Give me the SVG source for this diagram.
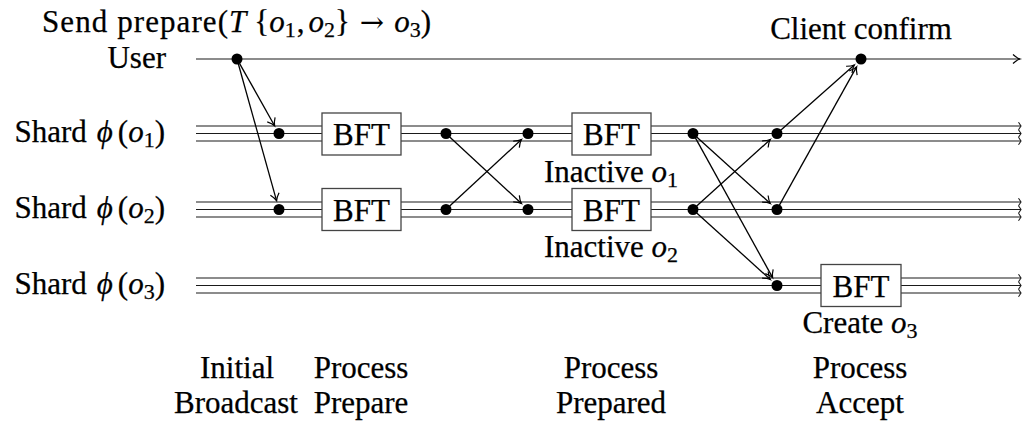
<svg xmlns="http://www.w3.org/2000/svg" width="1024" height="423" viewBox="0 0 1024 423">
  <style>
    text { font-family: "Liberation Serif", "Times New Roman", serif; font-size: 31px; fill: #000; stroke: #000; stroke-width: 0.25; }
    .m { font-style: italic; }
    .sub { font-size: 22px; }
    .sym { font-family: "DejaVu Serif", serif; font-size: 29px; stroke-width: 0; }
    .lane { stroke: #1a1a1a; stroke-width: 1.2; fill: none; }
    .rail { stroke: #1a1a1a; stroke-width: 1.2; fill: none; marker-end: url(#tick); }
    .box { fill: #fff; stroke: #444; stroke-width: 1.3; }
    .dot { fill: #000; }
    .msg { stroke: #000; stroke-width: 1.3; fill: none; marker-end: url(#to); }
    .mid { text-anchor: middle; }
    .end { text-anchor: end; }
  </style>
  <defs>
    <!-- curved "to" arrow tip for messages -->
    <marker id="to" markerUnits="userSpaceOnUse" viewBox="-9 -6 10 12" markerWidth="10" markerHeight="12" refX="0" refY="0" orient="auto" overflow="visible">
      <path d="M-7,-4.5 C-4,-1.8 -2,-0.6 0,0 C-2,0.6 -4,1.8 -7,4.5" fill="none" stroke="#000" stroke-width="1.2"/>
    </marker>
    <!-- small tip at the right end of each shard rail -->
    <marker id="tick" markerUnits="userSpaceOnUse" viewBox="-4 -5 5 10" markerWidth="5" markerHeight="10" refX="0" refY="0" orient="auto" overflow="visible">
      <path d="M-2.5,-3.7 L0,0 L-2.5,3.7" fill="none" stroke="#1a1a1a" stroke-width="1.1"/>
    </marker>
  </defs>

  <!-- timelines -->
  <g id="lanes">
    <g id="lane-user">
      <line class="lane" x1="196" y1="59" x2="1020" y2="59" style="marker-end:url(#to)"/>
    </g>
    <g id="lane-shard1">
      <line class="rail" x1="196" y1="126" x2="1021" y2="126"/>
      <line class="rail" x1="196" y1="133.5" x2="1021" y2="133.5"/>
      <line class="rail" x1="196" y1="141" x2="1021" y2="141"/>
    </g>
    <g id="lane-shard2">
      <line class="rail" x1="196" y1="202" x2="1021" y2="202"/>
      <line class="rail" x1="196" y1="209.5" x2="1021" y2="209.5"/>
      <line class="rail" x1="196" y1="217" x2="1021" y2="217"/>
    </g>
    <g id="lane-shard3">
      <line class="rail" x1="196" y1="278" x2="1021" y2="278"/>
      <line class="rail" x1="196" y1="285.5" x2="1021" y2="285.5"/>
      <line class="rail" x1="196" y1="293" x2="1021" y2="293"/>
    </g>
  </g>

  <!-- lane labels -->
  <g id="lane-labels">
    <text y="32"><tspan x="42" textLength="186" lengthAdjust="spacing">Send prepare(</tspan><tspan class="m">T</tspan><tspan dx="8">{</tspan><tspan class="m">o</tspan><tspan class="sub" dy="5">1</tspan><tspan dy="-5" dx="1">,</tspan><tspan class="m" dx="4">o</tspan><tspan class="sub" dy="5">2</tspan><tspan dy="-5">}</tspan><tspan class="sym" dx="10">→</tspan><tspan class="m" dx="10">o</tspan><tspan class="sub" dy="5">3</tspan><tspan dy="-5">)</tspan></text>
    <text class="end" x="166" y="68">User</text>
    <text class="end" x="165" y="142">Shard<tspan class="m" dx="10">ϕ</tspan><tspan dx="5">(</tspan><tspan class="m">o</tspan><tspan class="sub" dy="5">1</tspan><tspan dy="-5">)</tspan></text>
    <text class="end" x="165" y="218">Shard<tspan class="m" dx="10">ϕ</tspan><tspan dx="5">(</tspan><tspan class="m">o</tspan><tspan class="sub" dy="5">2</tspan><tspan dy="-5">)</tspan></text>
    <text class="end" x="165" y="294">Shard<tspan class="m" dx="10">ϕ</tspan><tspan dx="5">(</tspan><tspan class="m">o</tspan><tspan class="sub" dy="5">3</tspan><tspan dy="-5">)</tspan></text>
  </g>

  <!-- user events -->
  <g id="n-user-send"><circle class="dot" cx="237" cy="59" r="5.5"/></g>
  <g id="n-client-confirm">
    <circle class="dot" cx="861" cy="59" r="5.5"/>
    <text class="mid" x="861" y="39">Client confirm</text>
  </g>

  <!-- shard 1 events -->
  <g id="n-s1-recv"><circle class="dot" cx="279" cy="133.5" r="5.5"/></g>
  <g id="n-s1-bft1">
    <rect class="box" x="322" y="113" width="79" height="42"/>
    <text class="mid" x="361.5" y="145">BFT</text>
  </g>
  <g id="n-s1-send"><circle class="dot" cx="446" cy="133.5" r="5.5"/></g>
  <g id="n-s1-prepared"><circle class="dot" cx="528" cy="133.5" r="5.5"/></g>
  <g id="n-s1-bft2">
    <rect class="box" x="572" y="113" width="79" height="42"/>
    <text class="mid" x="611.5" y="145">BFT</text>
    <text class="mid" x="611" y="182">Inactive <tspan class="m">o</tspan><tspan class="sub" dy="5">1</tspan></text>
  </g>
  <g id="n-s1-accept"><circle class="dot" cx="693" cy="133.5" r="5.5"/></g>
  <g id="n-s1-done"><circle class="dot" cx="777" cy="133.5" r="5.5"/></g>

  <!-- shard 2 events -->
  <g id="n-s2-recv"><circle class="dot" cx="279" cy="209.5" r="5.5"/></g>
  <g id="n-s2-bft1">
    <rect class="box" x="322" y="188.5" width="79" height="42"/>
    <text class="mid" x="361.5" y="220.5">BFT</text>
  </g>
  <g id="n-s2-send"><circle class="dot" cx="446" cy="209.5" r="5.5"/></g>
  <g id="n-s2-prepared"><circle class="dot" cx="528" cy="209.5" r="5.5"/></g>
  <g id="n-s2-bft2">
    <rect class="box" x="572" y="188.5" width="79" height="42"/>
    <text class="mid" x="611.5" y="220.5">BFT</text>
    <text class="mid" x="611" y="257">Inactive <tspan class="m">o</tspan><tspan class="sub" dy="5">2</tspan></text>
  </g>
  <g id="n-s2-accept"><circle class="dot" cx="693" cy="209.5" r="5.5"/></g>
  <g id="n-s2-done"><circle class="dot" cx="777" cy="209.5" r="5.5"/></g>

  <!-- shard 3 events -->
  <g id="n-s3-recv"><circle class="dot" cx="777" cy="285.5" r="5.5"/></g>
  <g id="n-s3-bft">
    <rect class="box" x="821" y="264.5" width="80" height="42"/>
    <text class="mid" x="861" y="296.5">BFT</text>
    <text class="mid" x="860" y="333">Create <tspan class="m">o</tspan><tspan class="sub" dy="5">3</tspan></text>
  </g>

  <!-- messages -->
  <g id="connectors">
    <line class="msg" x1="239.5" y1="63.4" x2="274.6" y2="125.7"/>
    <line class="msg" x1="238.3" y1="63.8" x2="276.6" y2="200.8"/>
    <line class="msg" x1="449.7" y1="136.9" x2="521.4" y2="203.4"/>
    <line class="msg" x1="449.7" y1="206.1" x2="521.4" y2="139.6"/>
    <line class="msg" x1="696.7" y1="136.9" x2="770.3" y2="203.5"/>
    <line class="msg" x1="695.4" y1="137.9" x2="772.6" y2="277.6"/>
    <line class="msg" x1="696.7" y1="206.1" x2="770.3" y2="139.5"/>
    <line class="msg" x1="696.7" y1="212.9" x2="770.3" y2="279.5"/>
    <line class="msg" x1="780.7" y1="130.2" x2="854.3" y2="65"/>
    <line class="msg" x1="779.4" y1="205.1" x2="856.6" y2="66.9"/>
  </g>

  <!-- phase captions -->
  <g id="phases">
    <text class="mid" x="237" y="378">Initial</text>
    <text class="mid" x="236" y="413">Broadcast</text>
    <text class="mid" x="361" y="378">Process</text>
    <text class="mid" x="361" y="413">Prepare</text>
    <text class="mid" x="611" y="378">Process</text>
    <text class="mid" x="611" y="413">Prepared</text>
    <text class="mid" x="860" y="378">Process</text>
    <text class="mid" x="860" y="413">Accept</text>
  </g>
</svg>
